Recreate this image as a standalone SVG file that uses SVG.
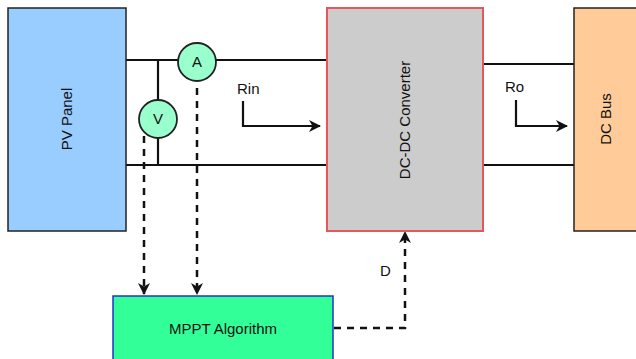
<svg xmlns="http://www.w3.org/2000/svg" width="636" height="359" viewBox="0 0 636 359">
<style>
  text { font-family: "Liberation Sans", Arial, sans-serif; font-size: 15px; fill: #111; }
  .wire { stroke: #111; stroke-width: 2.2; fill: none; }
  .dash { stroke: #111; stroke-width: 2.5; fill: none; stroke-dasharray: 7 6; }
  .meter { fill: #99ffcc; stroke: #222; stroke-width: 1.8; }
</style>
<defs>
  <marker id="ah" viewBox="0 0 12 12" refX="11" refY="6" markerWidth="12" markerHeight="12" markerUnits="userSpaceOnUse" orient="auto">
    <path d="M0,0 L12,6 L0,12 L3.5,6 Z" fill="#111"/>
  </marker>
</defs>
<rect width="636" height="359" fill="#fff"/>
<g id="connectors">
  <line class="wire" x1="126" y1="60" x2="327" y2="60"/>
  <line class="wire" x1="126" y1="165" x2="327" y2="165"/>
  <line class="wire" x1="158" y1="60" x2="158" y2="165"/>
  <line class="wire" x1="483" y1="64" x2="574" y2="64"/>
  <line class="wire" x1="483" y1="165" x2="574" y2="165"/>
  <path class="wire" d="M243,101 L243,126 L320,126" marker-end="url(#ah)"/>
  <path class="wire" d="M516,100 L516,126 L567,126" marker-end="url(#ah)"/>
  <path class="dash" d="M144,136 L144,294" marker-end="url(#ah)"/>
  <path class="dash" d="M197,88 L197,294" marker-end="url(#ah)"/>
  <path class="dash" d="M334,328 L405,328 L405,232" marker-end="url(#ah)"/>
  <text x="237" y="94">Rin</text>
  <text x="505" y="92">Ro</text>
  <text x="380" y="276">D</text>
</g>
<g id="pv-panel">
  <rect x="8" y="8" width="118" height="223" fill="#99ccff" stroke="#222" stroke-width="1.5"/>
  <text transform="translate(72,119) rotate(-90)" text-anchor="middle">PV Panel</text>
</g>
<g id="ammeter">
  <circle class="meter" cx="197" cy="62" r="19"/>
  <text x="197" y="67" text-anchor="middle">A</text>
</g>
<g id="voltmeter">
  <circle class="meter" cx="158" cy="119" r="19"/>
  <text x="158" y="124" text-anchor="middle">V</text>
</g>
<g id="dcdc">
  <rect x="327" y="8" width="156" height="223" fill="#cccccc" stroke="#e8555a" stroke-width="2"/>
  <text transform="translate(410,120) rotate(-90)" text-anchor="middle">DC-DC Converter</text>
</g>
<g id="dcbus">
  <rect x="574" y="8" width="70" height="223" fill="#ffcc99" stroke="#222" stroke-width="1.5"/>
  <text transform="translate(611,119) rotate(-90)" text-anchor="middle">DC Bus</text>
</g>
<g id="mppt">
  <rect x="113" y="296" width="220" height="70" fill="#33ff99" stroke="#2233cc" stroke-width="1.5"/>
  <text x="223" y="334" text-anchor="middle">MPPT Algorithm</text>
</g>
</svg>
